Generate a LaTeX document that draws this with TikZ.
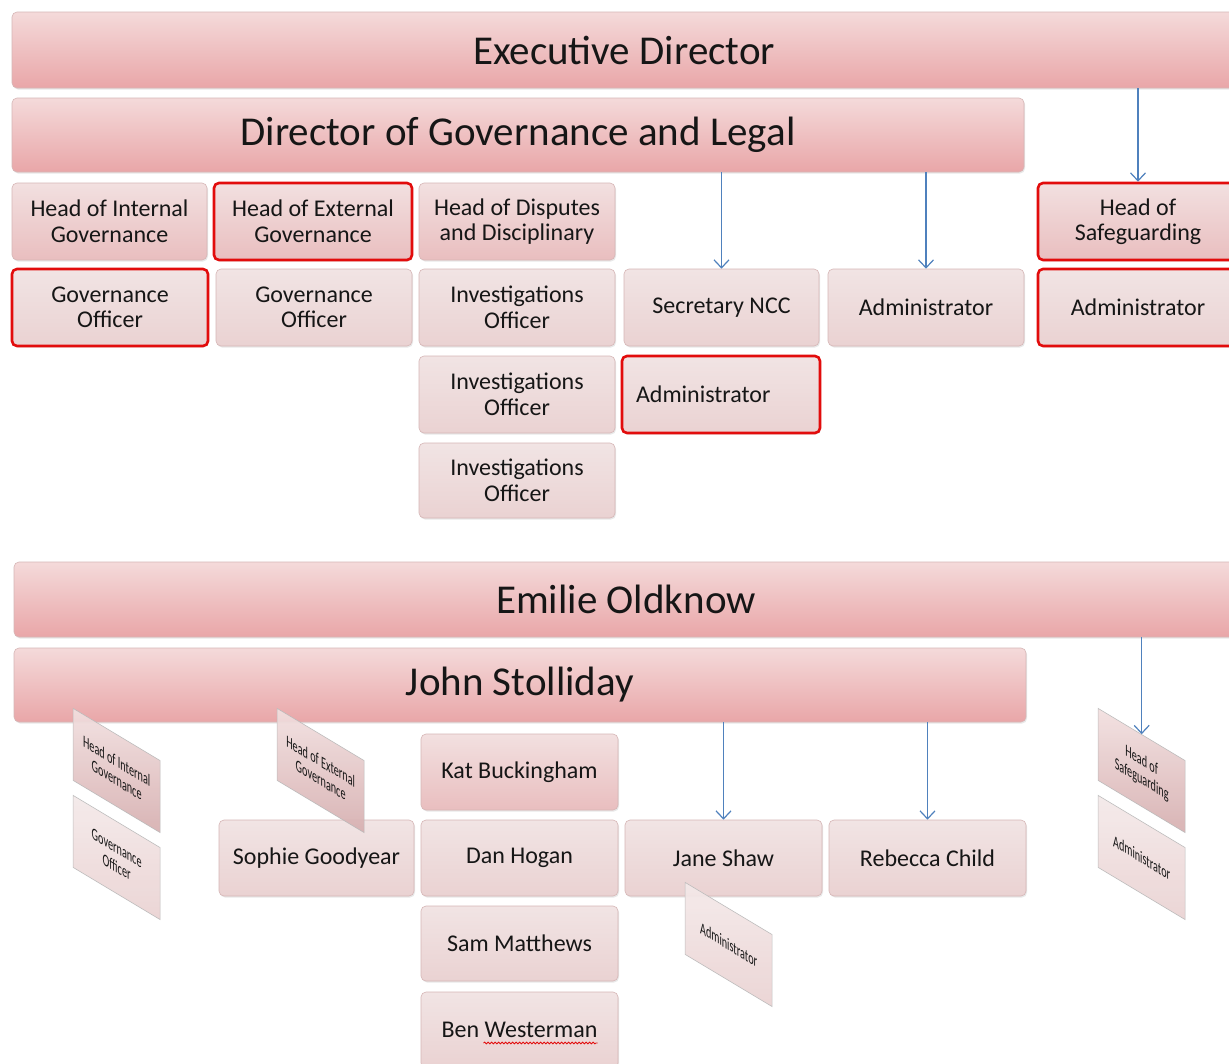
\documentclass[tikz,border=0pt]{standalone}
\usepackage{fontspec}
\setmainfont{Carlito}
\usetikzlibrary{arrows.meta,shadows,decorations.pathmorphing}
\definecolor{bigtop}{RGB}{244,218,218}
\definecolor{bigbot}{RGB}{233,166,168}
\definecolor{headtop}{RGB}{242,224,224}
\definecolor{headbot}{RGB}{233,190,191}
\definecolor{subtop}{RGB}{241,228,228}
\definecolor{subbot}{RGB}{234,210,210}
\definecolor{bordc}{RGB}{214,182,182}
\definecolor{redb}{RGB}{226,12,12}
\definecolor{arrc}{RGB}{79,129,189}
\definecolor{txtc}{RGB}{22,22,22}
\tikzset{
  base/.style={rounded corners=5pt, draw=bordc, line width=0.6pt, text=txtc, align=center, inner sep=2pt,
    drop shadow={opacity=0.18, shadow xshift=1pt, shadow yshift=-1.5pt}},
  bigbox/.style={base, top color=bigtop, bottom color=bigbot, font=\fontsize{41}{46}\selectfont},
  headbox/.style={base, top color=headtop, bottom color=headbot, font=\fontsize{24}{25.5}\selectfont},
  subbox/.style={base, top color=subtop, bottom color=subbot, font=\fontsize{24}{25.5}\selectfont},
  redline/.style={draw=redb, line width=2.6pt},
  arr/.style={draw=arrc, line width=1.3pt, -{Straight Barb[length=8pt,width=15pt,line width=1.2pt]}},
  skewbase/.style={anchor=north west, transform shape, xscale=0.6, minimum width=145pt, minimum height=72pt,
    draw=gray!55, line width=0.6pt, text=txtc, align=center, inner sep=1pt, opacity=0.92, text opacity=1,
    font=\fontsize{17}{19}\selectfont},
  skewhead/.style={skewbase, top color=headtop, bottom color=headbot!92!black},
  skewsub/.style={skewbase, top color=subtop!80!white, bottom color=subbot},
  slantit/.style={shift={#1}, cm={1,-0.6,0,1,(0,0)}}
}
\begin{document}
\begin{tikzpicture}[x=1pt,y=-1pt]
\useasboundingbox (0,0) rectangle (1229,1063);
\clip (0,0) rectangle (1229,1063);
\fill[white] (0,0) rectangle (1229,1063);

% ---------- upper chart ----------
\node[bigbox, minimum width=1224pt, minimum height=76pt] (exec) at (624,50) {Executive Director};
\node[bigbox, minimum width=1012pt, minimum height=74pt] (dgl) at (518,135) {Director of Governance and Legal};

\node[headbox, minimum width=195pt, minimum height=77pt] (hig) at (109.5,221.5) {Head of Internal\\Governance};
\node[headbox, redline, minimum width=198pt, minimum height=77pt] (heg) at (313,221.5) {Head of External\\Governance};
\node[headbox, minimum width=196pt, minimum height=77pt] (hdd) at (517,221.5) {Head of Disputes\\and Disciplinary};
\node[headbox, redline, minimum width=200pt, minimum height=77pt] (hsg) at (1138,221.5) {Head of\\Safeguarding};

\node[subbox, redline, minimum width=196pt, minimum height=77pt] (go1) at (110,307.5) {Governance\\Officer};
\node[subbox, minimum width=196pt, minimum height=77pt] (go2) at (314,307.5) {Governance\\Officer};
\node[subbox, minimum width=196pt, minimum height=77pt] (io1) at (517,307.5) {Investigations\\Officer};
\node[subbox, minimum width=195pt, minimum height=77pt] (snc) at (721.5,307.5) {Secretary NCC};
\node[subbox, minimum width=196pt, minimum height=77pt] (adm1) at (926,307.5) {Administrator};
\node[subbox, redline, minimum width=200pt, minimum height=77pt] (adm2) at (1138,307.5) {Administrator};

\node[subbox, minimum width=196pt, minimum height=77pt] (io2) at (517,394.5) {Investigations\\Officer};
\node[subbox, redline, minimum width=198pt, minimum height=77pt, text width=170pt, align=left] (adm3) at (721,394.5) {Administrator};
\node[subbox, minimum width=196pt, minimum height=75pt] (io3) at (517,480.5) {Investigations\\Officer};

\draw[arr] (snc.north |- dgl.south) -- (snc.north);
\draw[arr] (adm1.north |- dgl.south) -- (adm1.north);
\draw[arr] (hsg.north |- exec.south) -- (hsg.north);

% ---------- lower chart ----------
\node[bigbox, minimum width=1224pt, minimum height=75pt] (emo) at (626,599.5) {Emilie Oldknow};
\node[bigbox, minimum width=1012pt, minimum height=74pt] (jst) at (520,685) {John Stolliday};

\node[headbox, minimum width=197pt, minimum height=76pt] (kat) at (519.5,772) {Kat Buckingham};
\node[subbox, minimum width=195pt, minimum height=76pt] (sop) at (316.5,858) {Sophie Goodyear};
\node[subbox, minimum width=197pt, minimum height=76pt] (dan) at (519.5,858) {Dan Hogan};
\node[subbox, minimum width=197pt, minimum height=76pt] (jan) at (723.5,858) {Jane Shaw};
\node[subbox, minimum width=197pt, minimum height=76pt] (reb) at (927.5,858) {Rebecca Child};
\node[subbox, minimum width=197pt, minimum height=75pt] (sam) at (519.5,943.5) {Sam Matthews};
\node[subbox, minimum width=197pt, minimum height=76pt] (ben) at (519.5,1030) {Ben Westerman};
\draw[redb, line width=0.8pt, decorate, decoration={snake, amplitude=0.9pt, segment length=3.5pt}]
  ([xshift=-36pt,yshift=-13pt]ben.center) -- ([xshift=78pt,yshift=-13pt]ben.center);

\begin{scope}[slantit={(73,708)}]
  \node[skewhead] (sig) at (0,0) {Head of Internal\\Governance};
\end{scope}
\begin{scope}[slantit={(73,795)}]
  \node[skewsub] (sgo) at (0,0) {Governance\\Officer};
\end{scope}
\begin{scope}[slantit={(277,708)}]
  \node[skewhead] (seg) at (0,0) {Head of External\\Governance};
\end{scope}
\begin{scope}[slantit={(1098,708)}]
  \node[skewhead] (ssg) at (0,0) {Head of\\Safeguarding};
\end{scope}
\begin{scope}[slantit={(1098,795)}]
  \node[skewsub] (sad) at (0,0) {Administrator};
\end{scope}
\begin{scope}[slantit={(685,882)}]
  \node[skewsub] (jad) at (0,0) {Administrator};
\end{scope}

\draw[arr] (jan.north |- jst.south) -- (jan.north);
\draw[arr] (reb.north |- jst.south) -- (reb.north);
\draw[arr] (ssg.north |- emo.south) -- (ssg.north);
\end{tikzpicture}
\end{document}
